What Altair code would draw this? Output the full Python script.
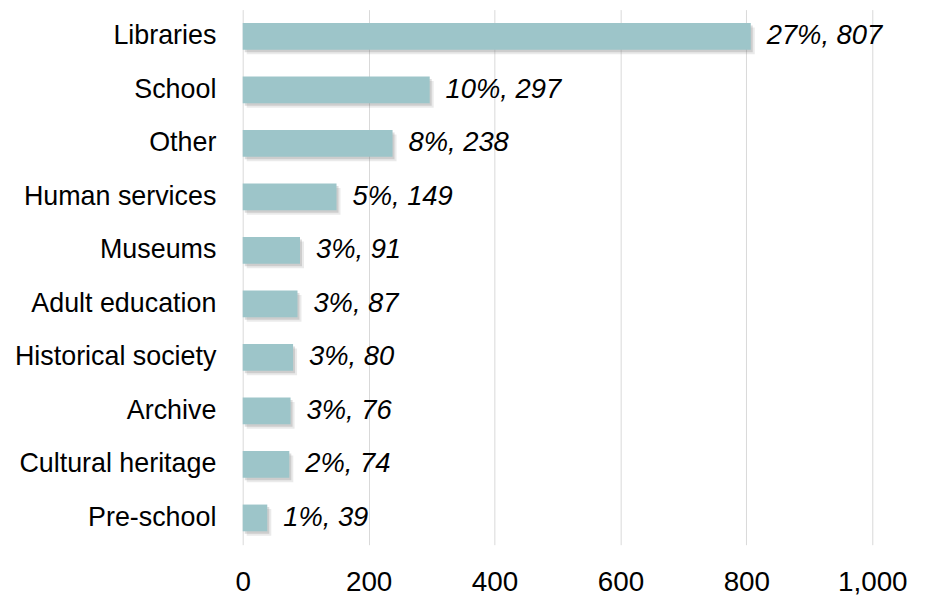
import altair as alt
import pandas as pd

categories = ["Libraries", "School", "Other", "Human services", "Museums",
              "Adult education", "Historical society", "Archive",
              "Cultural heritage", "Pre-school"]
counts = [807, 297, 238, 149, 91, 87, 80, 76, 74, 39]
percents = [27, 10, 8, 5, 3, 3, 3, 3, 2, 1]
x_ticks = [0, 200, 400, 600, 800, 1000]

df = pd.DataFrame({
    "category": categories,
    "count": counts,
    "label": [f"{p}%, {c}" for p, c in zip(percents, counts)],
})

FONT = "Liberation Sans"

x_enc = alt.X("count:Q", scale=alt.Scale(domain=[0, 1000], nice=False),
              axis=alt.Axis(values=x_ticks, format=",d", title=None, domain=False,
                            ticks=False, grid=True, gridColor="#d9d9d9", gridWidth=1,
                            labelFont=FONT, labelFontSize=28, labelColor="#000000",
                            labelPadding=24, labelFlush=False, labelOverlap=False))
y_enc = alt.Y("category:N", sort=categories,
              scale=alt.Scale(paddingInner=0.5, paddingOuter=0.25),
              axis=alt.Axis(title=None, domain=False, ticks=False, grid=False,
                            labelFont=FONT, labelFontSize=27, labelColor="#000000",
                            labelPadding=27, labelLimit=0))

base = alt.Chart(df)

shadow1 = base.mark_bar(color="#7a7a7a", opacity=0.16, xOffset=4, yOffset=4.5).encode(x=x_enc, y=y_enc)
shadow2 = base.mark_bar(color="#7a7a7a", opacity=0.26, xOffset=2, yOffset=2.5).encode(x=x_enc, y=y_enc)
bars = base.mark_bar(color="#9DC5C9").encode(x=x_enc, y=y_enc)
texts = base.mark_text(align="left", baseline="middle", dx=16, font=FONT,
                       fontStyle="italic", fontSize=27.5, color="#000000").encode(
    x=x_enc, y=y_enc, text="label:N")

chart = alt.layer(shadow1, shadow2, bars, texts).properties(
    width=633, height=538,
    autosize=alt.AutoSizeParams(type="none"),
    padding={"left": 236, "top": 0, "right": 50, "bottom": 52},
).configure_view(stroke=None)

chart.save("out.html", embed_options={"renderer": "svg", "actions": False})
